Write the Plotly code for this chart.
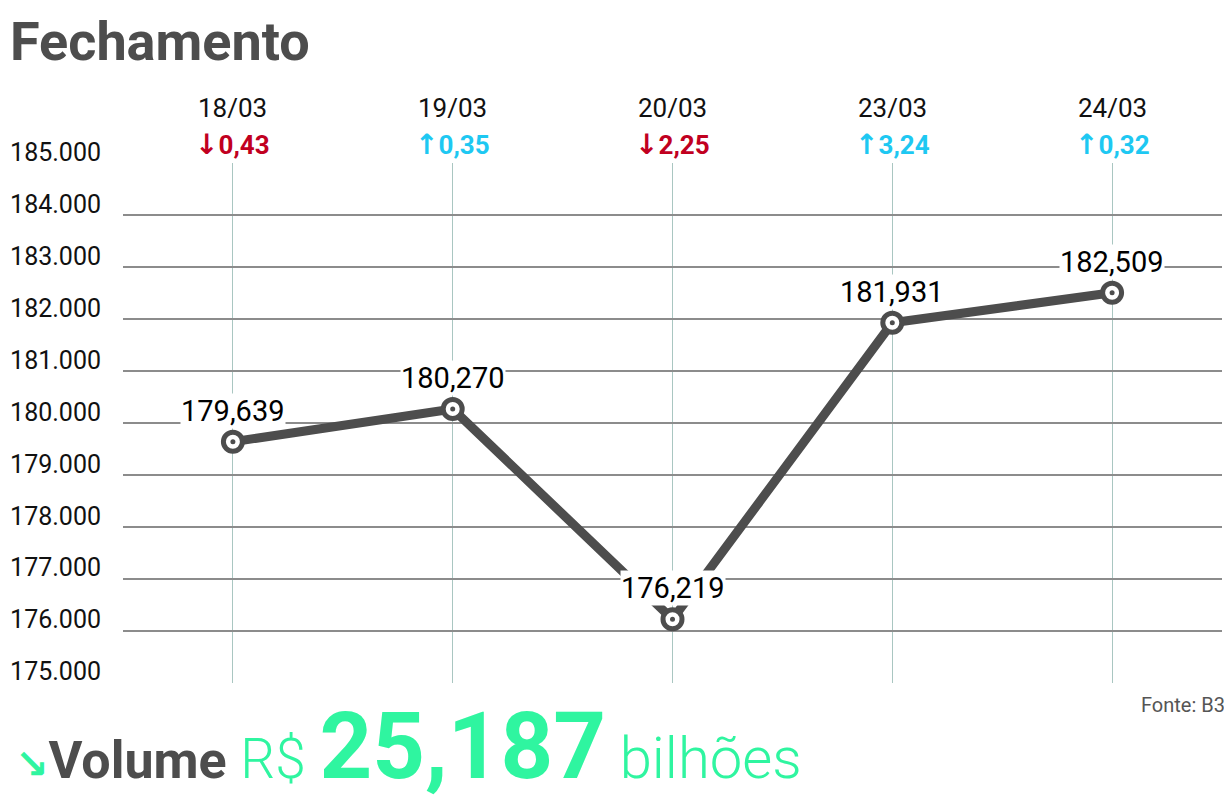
import plotly.graph_objects as go

# dados do fechamento (Ibovespa)
datas = ["18/03", "19/03", "20/03", "23/03", "24/03"]
fechamento = [179639, 180270, 176219, 181931, 182509]
variacao = [-0.43, 0.35, -2.25, 3.24, 0.32]
y_ticks = [175000, 176000, 177000, 178000, 179000, 180000, 181000, 182000, 183000, 184000, 185000]

CINZA = "#4d4d4d"
VERMELHO = "#c1001f"
CIANO = "#1ec8f2"
VERDE = "#2ff5a0"

x = list(range(len(datas)))

fig = go.Figure()
# linha grossa + marcadores brancos com borda
fig.add_trace(go.Scatter(
    x=x, y=fechamento, mode="lines+markers",
    line=dict(color=CINZA, width=9),
    marker=dict(size=19, color="white", line=dict(color=CINZA, width=5)),
    hoverinfo="skip",
))
# pontinho central
fig.add_trace(go.Scatter(
    x=x, y=fechamento, mode="markers",
    marker=dict(size=5, color=CINZA),
    hoverinfo="skip",
))

annotations = []
for i, (d, v, var) in enumerate(zip(datas, fechamento, variacao)):
    # rótulo do valor, com fundo branco por cima da linha
    annotations.append(dict(
        x=i, y=v, xref="x", yref="y", text=f"{v:,}", showarrow=False,
        yshift=31, bgcolor="white", borderpad=0,
        font=dict(family="Roboto", size=29, color="black"),
    ))
    # data no topo
    annotations.append(dict(
        x=i, y=185000, xref="x", yref="y", text=d, showarrow=False,
        yshift=56, font=dict(family="Roboto", size=26, color="#111111"),
    ))
    # variação
    cor = VERMELHO if var < 0 else CIANO
    seta = "↓" if var < 0 else "↑"
    txt = (f"<span style='font-family:DejaVu Sans;font-size:28px'>{seta}</span>"
           + f"{abs(var):.2f}".replace(".", ","))
    annotations.append(dict(
        x=i, y=185000, xref="x", yref="y", text=f"<b>{txt}</b>", showarrow=False,
        yshift=19, font=dict(family="Roboto", size=26, color=cor),
    ))

# título
annotations.append(dict(
    x=0, y=1, xref="paper", yref="paper", xanchor="left", yanchor="top",
    xshift=-115, yshift=155, text="<b>Fechamento</b>", showarrow=False,
    font=dict(family="Roboto", size=54, color=CINZA),
))
# fonte
annotations.append(dict(
    x=1, y=0, xref="paper", yref="paper", xanchor="right", yanchor="top",
    xshift=5, yshift=-8, text="Fonte: B3", showarrow=False,
    font=dict(family="Roboto", size=20, color="#555555"),
))
# volume
vol_txt = (
    "<span style='font-family:DejaVu Sans;font-weight:bold;font-size:40px'>↘</span>"
    f"<span style='color:{CINZA};font-weight:bold;font-size:52px'>Volume</span> "
    "<span style='font-weight:300'>R$</span> "
    "<span style='font-weight:bold;font-size:92px'>25,187</span> "
    "<span style='font-weight:300;font-size:58px'>bilhões</span>"
)
annotations.append(dict(
    x=0, y=0, xref="paper", yref="paper", xanchor="left", yanchor="top",
    xshift=-110, yshift=-8, text=vol_txt, showarrow=False,
    font=dict(family="Roboto", size=55, color=VERDE),
))

fig.update_layout(
    width=1224, height=795,
    margin=dict(l=115, r=10, t=155, b=120, autoexpand=False),
    paper_bgcolor="white", plot_bgcolor="white",
    showlegend=False,
    separators=",.",
    xaxis=dict(
        range=[-0.5, 4.5], tickvals=x, showticklabels=False,
        showgrid=True, gridcolor="#a9c6c1", gridwidth=1.2,
        zeroline=False, showline=False, fixedrange=True, automargin=False,
    ),
    yaxis=dict(
        range=[174990, 185010], tickvals=y_ticks, tickformat=",d",
        showgrid=True, gridcolor="#8c8c8c", gridwidth=1.5,
        zeroline=False, showline=False, ticks="",
        ticklabelstandoff=21, ticklabelshift=-11,
        tickfont=dict(family="Roboto", size=25, color="#111111"),
        fixedrange=True, automargin=False,
    ),
    annotations=annotations,
)

fig.write_html("out.html")
